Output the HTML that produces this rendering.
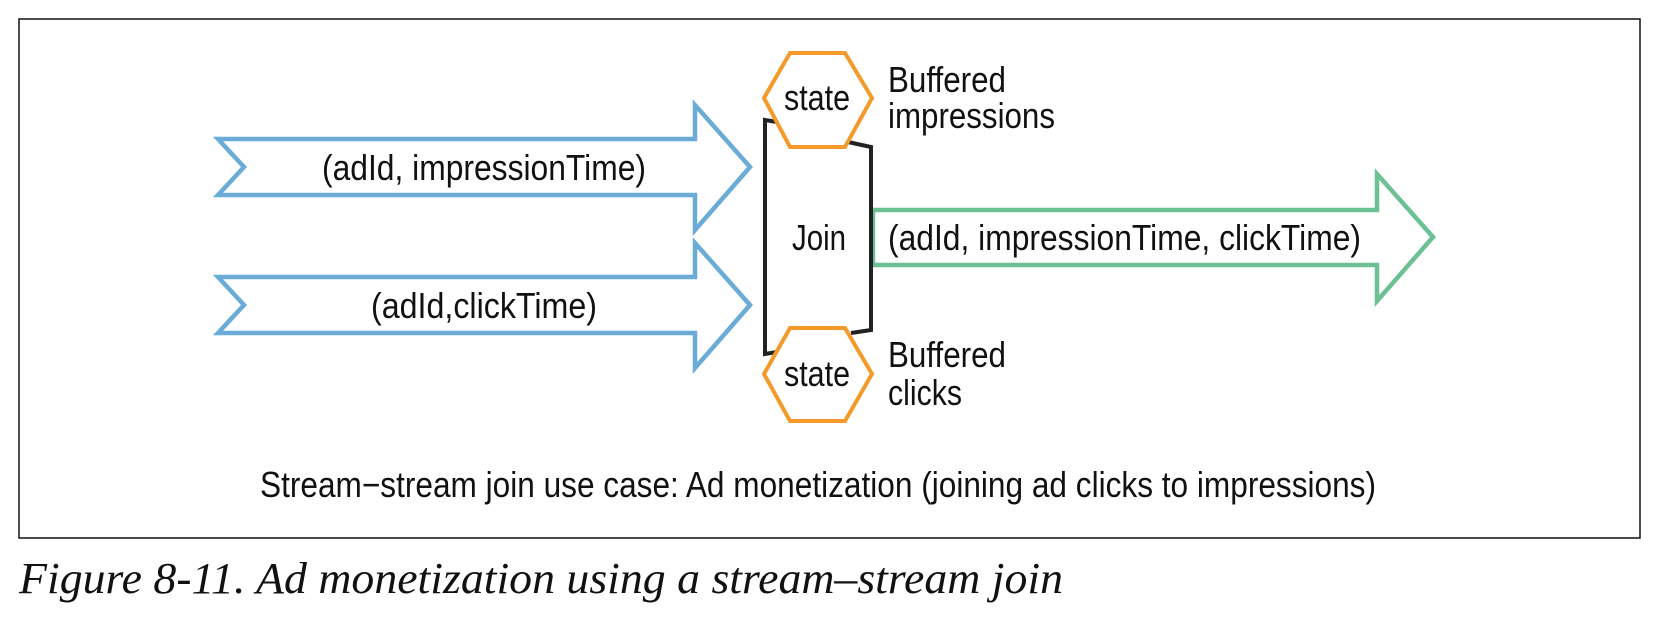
<!DOCTYPE html>
<html><head><style>html,body{margin:0;padding:0;background:#fff;width:1664px;height:628px;overflow:hidden}</style></head>
<body>
<svg width="1664" height="628" xmlns="http://www.w3.org/2000/svg" font-family="'Liberation Sans', sans-serif">
<rect x="19" y="19" width="1621" height="519" fill="#fff" stroke="#111" stroke-width="1.5"/>
<g fill="none" stroke="#6aabd8" stroke-width="4.5" stroke-linejoin="miter">
<polygon points="218,139 695,139 695,105 750,167 695,230 695,195 218,195 244,167"/>
<polygon points="218,277 695,277 695,243 750,305 695,368 695,333 218,333 244,305"/>
</g>
<polygon fill="none" stroke="#6cc194" stroke-width="4.5" points="873,210 1377,210 1377,174 1433,237 1377,301 1377,265 873,265"/>
<g fill="none" stroke="#222" stroke-width="4">
<polyline points="777,122 765,120 765,354 777,352"/>
<polyline points="848,142 871,147 871,330 851,333"/>
</g>
<g fill="#fff" stroke="#f39a2a" stroke-width="4">
<polygon points="764,98 790,53 845,53 872,98 845,147 790,147"/>
<polygon points="764,374 790,328 845,328 872,374 845,421 790,421"/>
</g>
<g fill="#111" font-size="36">
<text x="784" y="110" textLength="66" lengthAdjust="spacingAndGlyphs">state</text>
<text x="784" y="386" textLength="66" lengthAdjust="spacingAndGlyphs">state</text>
<text x="792" y="250" textLength="54" lengthAdjust="spacingAndGlyphs">Join</text>
<text x="888" y="92" textLength="118" lengthAdjust="spacingAndGlyphs">Buffered</text>
<text x="888" y="128" textLength="167" lengthAdjust="spacingAndGlyphs">impressions</text>
<text x="888" y="367" textLength="118" lengthAdjust="spacingAndGlyphs">Buffered</text>
<text x="888" y="405" textLength="74" lengthAdjust="spacingAndGlyphs">clicks</text>
<text x="322" y="180" textLength="324" lengthAdjust="spacingAndGlyphs">(adId, impressionTime)</text>
<text x="371" y="318" textLength="226" lengthAdjust="spacingAndGlyphs">(adId,clickTime)</text>
<text x="888" y="250" textLength="473" lengthAdjust="spacingAndGlyphs">(adId, impressionTime, clickTime)</text>
<text x="260" y="497" textLength="1116" lengthAdjust="spacingAndGlyphs">Stream−stream join use case: Ad monetization (joining ad clicks to impressions)</text>
</g>
<text x="19" y="593" font-family="'Liberation Serif', serif" font-style="italic" font-size="44" fill="#111" textLength="1044" lengthAdjust="spacingAndGlyphs">Figure 8-11. Ad monetization using a stream–stream join</text>
</svg>
</body></html>
